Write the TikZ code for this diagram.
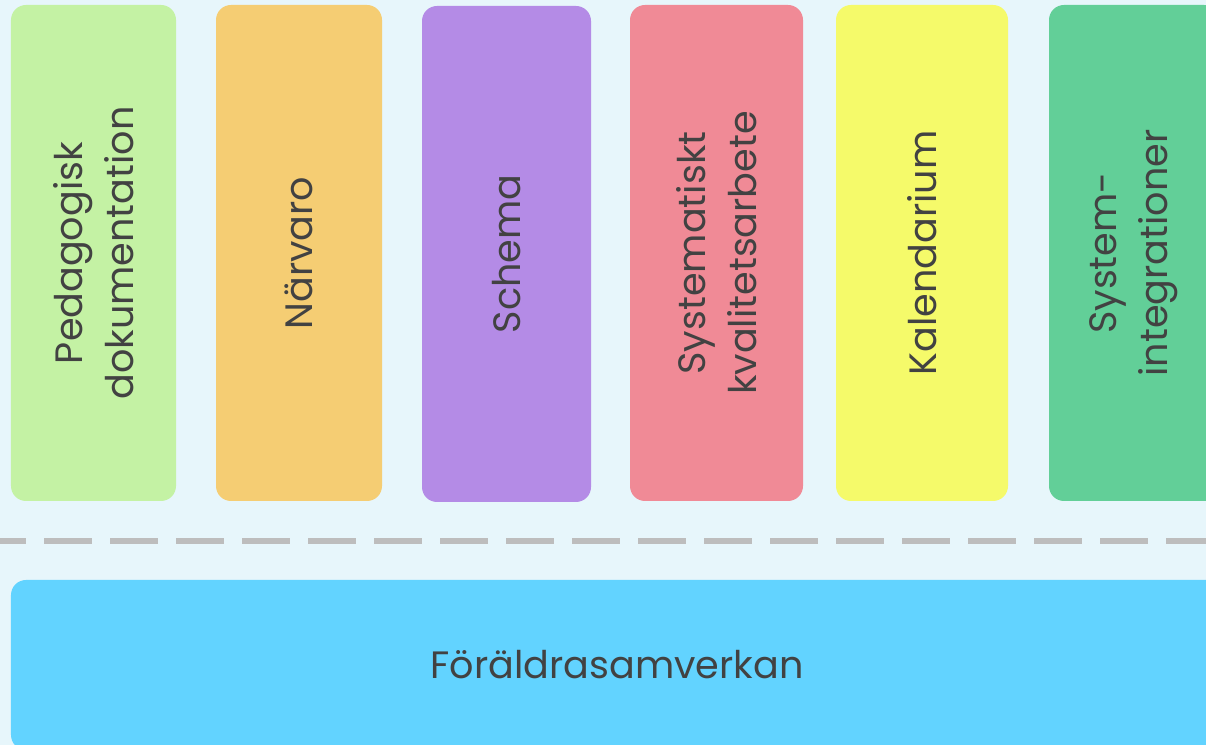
\documentclass[tikz,border=0pt]{standalone}
\usepackage{fontspec}
\setmainfont{Poppins}
\definecolor{bgblue}{HTML}{E7F6FB}
\definecolor{pedgreen}{HTML}{C4F2A4}
\definecolor{narorange}{HTML}{F5CD73}
\definecolor{schpurple}{HTML}{B48BE6}
\definecolor{syspink}{HTML}{F08A96}
\definecolor{kalyellow}{HTML}{F5FA6A}
\definecolor{intgreen}{HTML}{62CF98}
\definecolor{parblue}{HTML}{62D3FF}
\definecolor{sepgray}{HTML}{BDBDBD}
\definecolor{textgray}{HTML}{424242}
\tikzset{%
    module/.style={
      rectangle,
      rounded corners=0.3cm,
      draw=none,
      rotate=90,
      minimum width=9.92cm,
      inner sep=0pt,
      align=center,
      text=textgray,
      font=\fontsize{21.7}{29}\selectfont
    },
    base/.style={
      rectangle,
      rounded corners=0.3cm,
      draw=none,
      fill=parblue,
      minimum width=24.24cm,
      minimum height=3.4cm,
      text=textgray,
      font=\fontsize{21.7}{29}\selectfont
    },
    separator/.style={
      draw=sepgray,
      line width=0.12cm,
      dash pattern=on 0.96cm off 0.36cm,
      dash phase=0.44cm
    }
  }
\begin{document}
\begin{tikzpicture}
      \fill[bgblue] (0,0) rectangle (24.12,14.9);
      \clip (0,0) rectangle (24.12,14.9);

      \node [module, fill=pedgreen, minimum height=3.30cm] (ped) at (1.87,9.84) {Pedagogisk\\dokumentation};
      \node [module, fill=narorange, minimum height=3.32cm] (nar) at (5.98,9.84) {Närvaro};
      \node [module, fill=schpurple, minimum height=3.38cm] (sch) at (10.13,9.82) {Schema};
      \node [module, fill=syspink, minimum height=3.46cm] (skv) at (14.33,9.84) {Systematiskt\\kvalitetsarbete};
      \node [module, fill=kalyellow, minimum height=3.44cm] (kal) at (18.44,9.84) {Kalendarium};
      \node [module, fill=intgreen, minimum height=3.40cm] (int) at (22.68,9.84) {System-\\integrationer};

      \coordinate (sepw) at (0,4.08);
      \coordinate (sepe) at (24.12,4.08);
      \draw [separator] (sepw) -- (sepe);

      \node [base] (par) at (12.34,1.6) {Föräldrasamverkan};
\end{tikzpicture}
\end{document}
